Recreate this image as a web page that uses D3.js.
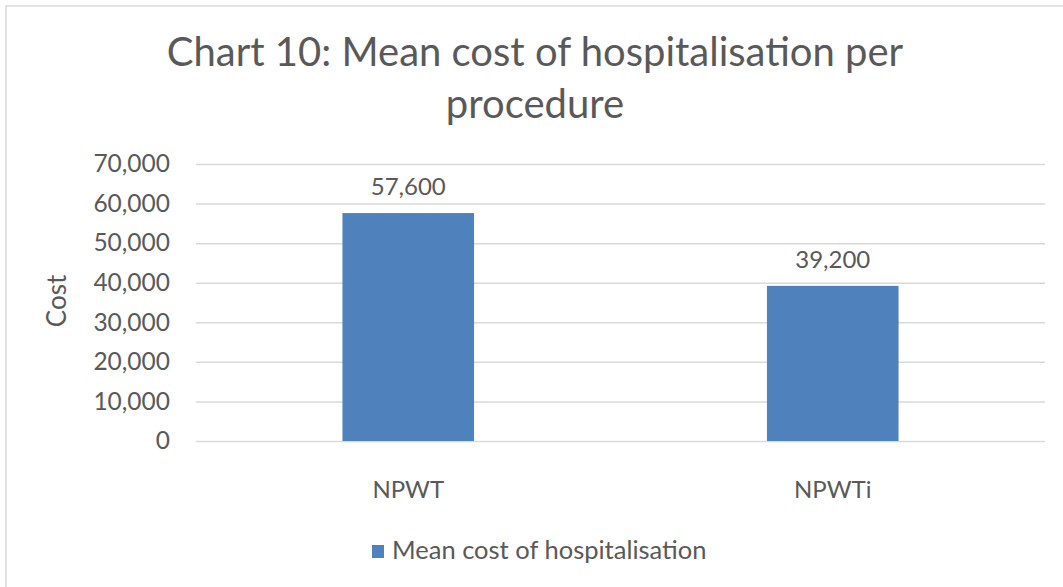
<!DOCTYPE html>
<html>
<head>
<meta charset="utf-8">
<script src="https://cdn.jsdelivr.net/npm/d3@7"></script>
<style>
  body { margin: 0; background: #fff; }
  text { font-family: Lato, "Open Sans", sans-serif; fill: #595959; }
</style>
</head>
<body>
<div id="chart"></div>
<script>
// Chart data.
var categories = ['NPWT', 'NPWTi'];
var meanCost = [57600, 39200];
var yTicks = [0, 10000, 20000, 30000, 40000, 50000, 60000, 70000];
var titleLines = ['Chart 10: Mean cost of hospitalisation per', 'procedure'];
var seriesName = 'Mean cost of hospitalisation';
var yTitle = 'Cost';

var fullWidth = 1063, fullHeight = 587;
var plot = {left: 196, right: 1045, top: 164, bottom: 441};
var barColor = '#4f81bd', gridColor = '#d9d9d9';

var svg = d3.select('#chart').append('svg')
    .attr('width', fullWidth)
    .attr('height', fullHeight);

// Frame of the chart area (right and bottom edges fall outside the picture).
svg.append('rect')
    .attr('x', 6).attr('y', 6)
    .attr('width', 1200).attr('height', 800)
    .attr('fill', '#fff')
    .attr('stroke', gridColor)
    .attr('stroke-width', 1.5);

var x = d3.scaleBand()
    .domain(categories)
    .range([plot.left, plot.right])
    .paddingInner(0.69)
    .paddingOuter(0.345);

var y = d3.scaleLinear()
    .domain([0, 70000])
    .range([plot.bottom, plot.top]);

var fmt = d3.format(',');

// Title.
svg.append('text')
    .attr('x', 535)
    .attr('text-anchor', 'middle')
    .style('font-size', '40px')
  .selectAll('tspan')
    .data(titleLines)
  .enter().append('tspan')
    .attr('x', 535)
    .attr('y', function(d, i) { return 66 + i * 52; })
    .text(function(d) { return d; });

// Y axis with gridlines.
var yAxis = d3.axisLeft(y)
    .tickValues(yTicks)
    .tickSize(-(plot.right - plot.left))
    .tickPadding(26)
    .tickFormat(fmt);

var gy = svg.append('g')
    .attr('transform', 'translate(' + plot.left + ',0)')
    .call(yAxis);
gy.select('.domain').remove();
gy.selectAll('.tick line')
    .attr('stroke', gridColor)
    .attr('stroke-width', 1.5);
gy.selectAll('.tick text')
    .attr('x', -26)
    .style('font-size', '24.5px')
    .attr('fill', '#595959')
    .style('font-family', 'Lato, "Open Sans", sans-serif');

// Y axis title.
svg.append('text')
    .attr('transform', 'translate(66,301) rotate(-90)')
    .attr('text-anchor', 'middle')
    .style('font-size', '26px')
    .text(yTitle);

// Bars.
svg.selectAll('.bar')
    .data(meanCost)
  .enter().append('rect')
    .attr('class', 'bar')
    .attr('x', function(d, i) { return x(categories[i]); })
    .attr('y', function(d) { return y(d); })
    .attr('width', x.bandwidth())
    .attr('height', function(d) { return y(0) - y(d); })
    .attr('fill', barColor);

// Data labels.
svg.selectAll('.label')
    .data(meanCost)
  .enter().append('text')
    .attr('class', 'label')
    .attr('x', function(d, i) { return x(categories[i]) + x.bandwidth() / 2; })
    .attr('y', function(d) { return y(d) - 18; })
    .attr('text-anchor', 'middle')
    .style('font-size', '24px')
    .text(fmt);

// X axis labels.
var xAxis = d3.axisBottom(x).tickSize(0).tickPadding(0);
var gx = svg.append('g')
    .attr('transform', 'translate(0,' + plot.bottom + ')')
    .call(xAxis);
gx.select('.domain').remove();
gx.selectAll('.tick text')
    .attr('y', 57)
    .attr('dy', null)
    .style('font-size', '24px')
    .attr('fill', '#595959')
    .style('font-family', 'Lato, "Open Sans", sans-serif');

// Legend.
var legend = svg.append('g').attr('transform', 'translate(372,545)');
legend.append('rect')
    .attr('width', 12).attr('height', 13)
    .attr('fill', barColor);
legend.append('text')
    .attr('x', 20).attr('y', 14)
    .style('font-size', '25.5px')
    .text(seriesName);
</script>
</body>
</html>
